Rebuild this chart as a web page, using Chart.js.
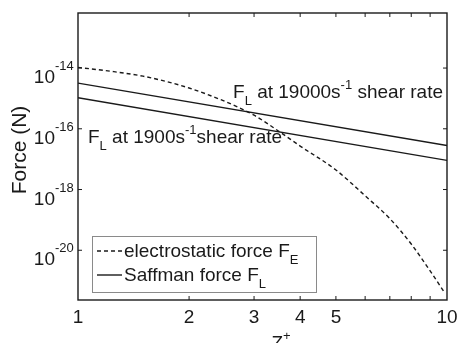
<!DOCTYPE html>
<html>
<head>
<meta charset="utf-8">
<script src="https://cdn.jsdelivr.net/npm/chart.js@4"></script>
<style>
  body { margin: 0; background: #fff; }
  #wrap { width: 459px; height: 343px; }
</style>
</head>
<body>
<div id="wrap"><canvas id="forceChart"></canvas></div>
<script>
// distance Z+ (log axis)
const zElectro = [1, 1.25, 1.5, 1.75, 2, 2.5, 3, 3.5, 4, 5, 6, 7, 8, 9, 9.85];
// electrostatic force F_E (N)
const forceElectro = [1.05e-14, 7.6e-15, 5.4e-15, 3.5e-15, 2.2e-15, 8.0e-16, 2.8e-16,
  8.3e-17, 2.7e-17, 4.4e-18, 6.2e-19, 1.1e-19, 1.6e-20, 2.1e-21, 4.0e-22];
// Saffman lift force F_L (N), straight lines on log-log
const zSaffman = [1, 10];
const forceSaffman19000 = [3.2e-15, 2.8e-17];
const forceSaffman1900 = [1.05e-15, 9.1e-18];

const xTickValues = [1, 2, 3, 4, 5, 10];
const xMinorTicks = [2, 3, 4, 5, 6, 7, 8, 9];
const yTickExponents = [-14, -16, -18, -20];

const FONT = '"Liberation Sans", Arial, Helvetica, sans-serif';
const INK = "#1a1a1a";

function pts(xs, ys) {
  return xs.map((x, i) => ({ x: x, y: ys[i] }));
}

// draw text made of pieces: {t, sub, sup}
function richText(ctx, parts, x, y, size, align) {
  let widths = parts.map((p) => {
    ctx.font = (p.sub || p.sup ? Math.round(size * 0.7) : size) + "px " + FONT;
    return ctx.measureText(p.t).width;
  });
  let total = widths.reduce((a, b) => a + b, 0);
  let cx = align === "right" ? x - total : align === "center" ? x - total / 2 : x;
  ctx.textAlign = "left";
  ctx.textBaseline = "alphabetic";
  parts.forEach((p, i) => {
    let dy = 0;
    if (p.sub) dy = size * 0.35;
    if (p.sup) dy = -size * 0.45;
    ctx.font = (p.sub || p.sup ? Math.round(size * 0.7) : size) + "px " + FONT;
    ctx.fillText(p.t, cx, y + dy);
    cx += widths[i];
  });
}

const framePlugin = {
  id: "frame",
  afterDraw(chart) {
    const { ctx, chartArea: a, scales } = chart;
    const xs = scales.x, ys = scales.y;
    ctx.save();
    ctx.strokeStyle = INK;
    ctx.fillStyle = INK;
    ctx.lineWidth = 1.4;
    ctx.setLineDash([]);
    ctx.strokeRect(a.left, a.top, a.right - a.left, a.bottom - a.top);

    // inward ticks
    ctx.lineWidth = 1;
    ctx.beginPath();
    xMinorTicks.forEach((v) => {
      const px = xs.getPixelForValue(v);
      ctx.moveTo(px, a.bottom); ctx.lineTo(px, a.bottom - 4);
      ctx.moveTo(px, a.top); ctx.lineTo(px, a.top + 4);
    });
    yTickExponents.forEach((e) => {
      const py = ys.getPixelForValue(Math.pow(10, e));
      ctx.moveTo(a.left, py); ctx.lineTo(a.left + 4, py);
      ctx.moveTo(a.right, py); ctx.lineTo(a.right - 4, py);
    });
    ctx.stroke();

    // x tick labels
    ctx.font = "19px " + FONT;
    ctx.textAlign = "center";
    ctx.textBaseline = "alphabetic";
    xTickValues.forEach((v) => {
      ctx.fillText(String(v), xs.getPixelForValue(v), a.bottom + 23);
    });

    // y tick labels 10^e
    yTickExponents.forEach((e) => {
      const py = ys.getPixelForValue(Math.pow(10, e));
      ctx.font = "13px " + FONT;
      ctx.textAlign = "left";
      ctx.fillText(String(e), a.left - 23, py + 2);
      ctx.font = "19px " + FONT;
      ctx.textAlign = "right";
      ctx.fillText("10", a.left - 23, py + 15);
    });

    // axis titles
    richText(ctx, [{ t: "Z" }, { t: "+", sup: true }], 281, 349, 19, "center");
    ctx.save();
    ctx.translate(26, 150);
    ctx.rotate(-Math.PI / 2);
    ctx.font = "21px " + FONT;
    ctx.textAlign = "center";
    ctx.fillText("Force (N)", 0, 0);
    ctx.restore();

    // annotations
    richText(ctx, [{ t: "F" }, { t: "L", sub: true }, { t: " at 19000s" }, { t: "-1", sup: true }, { t: " shear rate" }],
      a.right - 4, 98, 19, "right");
    richText(ctx, [{ t: "F" }, { t: "L", sub: true }, { t: " at 1900s" }, { t: "-1", sup: true }, { t: "shear rate" }],
      88, 143, 19, "left");

    // legend box
    ctx.fillStyle = "#fff";
    ctx.fillRect(92, 236, 224, 56);
    ctx.strokeStyle = "#8a8a8a";
    ctx.lineWidth = 1;
    ctx.strokeRect(92.5, 236.5, 224, 56);
    ctx.strokeStyle = INK;
    ctx.lineWidth = 1.4;
    ctx.setLineDash([4, 3]);
    ctx.beginPath(); ctx.moveTo(97, 251); ctx.lineTo(122, 251); ctx.stroke();
    ctx.setLineDash([]);
    ctx.beginPath(); ctx.moveTo(97, 275); ctx.lineTo(122, 275); ctx.stroke();
    ctx.fillStyle = INK;
    richText(ctx, [{ t: "electrostatic force F" }, { t: "E", sub: true }], 124, 257, 19, "left");
    richText(ctx, [{ t: "Saffman force F" }, { t: "L", sub: true }], 124, 281, 19, "left");
    ctx.restore();
  },
};

const ctx = document.getElementById("forceChart").getContext("2d");
new Chart(ctx, {
  type: "line",
  data: {
    datasets: [
      {
        label: "electrostatic force",
        data: pts(zElectro, forceElectro),
        borderColor: INK,
        borderWidth: 1.4,
        borderDash: [4, 3],
        pointRadius: 0,
        cubicInterpolationMode: "monotone",
      },
      {
        label: "Saffman force 19000",
        data: pts(zSaffman, forceSaffman19000),
        borderColor: INK,
        borderWidth: 1.4,
        pointRadius: 0,
        tension: 0,
      },
      {
        label: "Saffman force 1900",
        data: pts(zSaffman, forceSaffman1900),
        borderColor: INK,
        borderWidth: 1.4,
        pointRadius: 0,
        tension: 0,
      },
    ],
  },
  options: {
    responsive: true,
    maintainAspectRatio: false,
    animation: false,
    layout: { padding: { left: 78, right: 12, top: 13, bottom: 43 } },
    scales: {
      x: { type: "logarithmic", min: 1, max: 10, display: false },
      y: { type: "logarithmic", min: 2.3e-22, max: 6.5e-13, display: false },
    },
    plugins: {
      legend: { display: false },
      tooltip: { enabled: false },
    },
  },
  plugins: [framePlugin],
});
</script>
</body>
</html>
